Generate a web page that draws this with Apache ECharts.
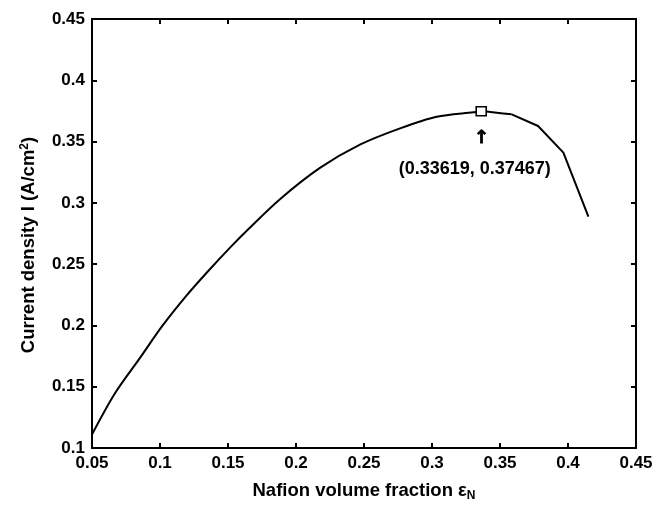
<!DOCTYPE html>
<html>
<head>
<meta charset="utf-8">
<script src="https://cdn.jsdelivr.net/npm/echarts@6/dist/echarts.min.js"></script>
<style>html,body{margin:0;padding:0;background:#fff}#c{width:667px;height:509px}</style>
</head>
<body>
<div id="c"></div>
<script>
// smooth rising part of the curve
var xCurve = [0.05, 0.0669, 0.0853, 0.1013, 0.1196, 0.1343, 0.1515, 0.1649, 0.1882, 0.2176, 0.247, 0.2765, 0.3035, 0.3304, 0.33619, 0.3476, 0.3586];
var yCurve = [0.111, 0.1446, 0.1735, 0.199, 0.2245, 0.243, 0.2635, 0.2785, 0.303, 0.3285, 0.3475, 0.3608, 0.3703, 0.3739, 0.37467, 0.3735, 0.3722];
// coarse falling tail
var xTail = [0.3586, 0.378, 0.3966, 0.415];
var yTail = [0.3722, 0.3627, 0.341, 0.2887];
var optX = 0.33619, optY = 0.37467;
var xTicks = {min: 0.05, max: 0.45, interval: 0.05};
var yTicks = {min: 0.1, max: 0.45, interval: 0.05};

var FONT = '"Liberation Sans", Arial, sans-serif';
var FS = 17, FN = 18.5;
var fmt = function (v) { return String(+v.toFixed(2)); };
var curveData = xCurve.map(function (x, i) { return [x, yCurve[i]]; });
var tailData = xTail.map(function (x, i) { return [x, yTail[i]]; });

function axisBase(pos, t, showLabel) {
  return {
    type: 'value', position: pos, min: t.min, max: t.max, interval: t.interval,
    axisLine: {show: true, onZero: false, lineStyle: {color: '#000', width: 2}},
    axisTick: {show: true, inside: true, length: 5, lineStyle: {color: '#000', width: 2}},
    splitLine: {show: false},
    axisLabel: {show: showLabel, color: '#000', fontFamily: FONT, fontWeight: 'bold', fontSize: FS, margin: 7, formatter: fmt}
  };
}
var xa0 = axisBase('bottom', xTicks, true);
xa0.name = '{a|Nafion volume fraction ε}{s|N}';
xa0.nameLocation = 'middle';
xa0.nameGap = 32;
xa0.nameTextStyle = {rich: {
  a: {fontFamily: FONT, fontWeight: 'bold', fontSize: FN, color: '#000', lineHeight: 22},
  s: {fontFamily: FONT, fontWeight: 'bold', fontSize: 12, color: '#000', padding: [10, 0, 0, 0], lineHeight: 22}
}};
var xa1 = axisBase('top', xTicks, false);
var ya0 = axisBase('left', yTicks, true);
ya0.name = '{a|Current density I (A/cm}{p|2}{a|)}';
ya0.nameLocation = 'middle';
ya0.nameGap = 52;
ya0.nameTextStyle = {padding: [0, 23, 0, 0], rich: {
  a: {fontFamily: FONT, fontWeight: 'bold', fontSize: FN, color: '#000', lineHeight: 22},
  p: {fontFamily: FONT, fontWeight: 'bold', fontSize: 12, color: '#000', padding: [0, 0, 9, 0], lineHeight: 22}
}};
var ya1 = axisBase('right', yTicks, false);

var chart = echarts.init(document.getElementById('c'));
chart.setOption({
  animation: false,
  backgroundColor: '#fff',
  grid: {left: 92, top: 19, right: 31, bottom: 61, containLabel: false},
  xAxis: [xa0, xa1],
  yAxis: [ya0, ya1],
  series: [
    {type: 'line', data: curveData, showSymbol: false, symbol: 'none', smooth: 0.3,
     lineStyle: {color: '#000', width: 2}},
    {type: 'line', data: tailData, showSymbol: false, symbol: 'none',
     lineStyle: {color: '#000', width: 2}},
    {type: 'scatter', data: [[optX, optY]], symbol: 'rect', symbolSize: [10, 9], z: 5,
     itemStyle: {color: '#fff', borderColor: '#000', borderWidth: 1.5, opacity: 1},
     label: {show: true, position: 'bottom', distance: 11, color: '#000',
       formatter: '{r|↑}\n{t|(' + optX + ', ' + optY + ')}',
       rich: {
         r: {fontFamily: '"DejaVu Sans", sans-serif', fontWeight: 'bold', fontSize: 18, color: '#000', lineHeight: 22, align: 'center', textBorderColor: '#000', textBorderWidth: 0.8},
         t: {fontFamily: FONT, fontWeight: 'bold', fontSize: 18, color: '#000', lineHeight: 38, align: 'center', padding: [0, 13, 0, 0]}
       }}}
  ]
});
</script>
</body>
</html>
